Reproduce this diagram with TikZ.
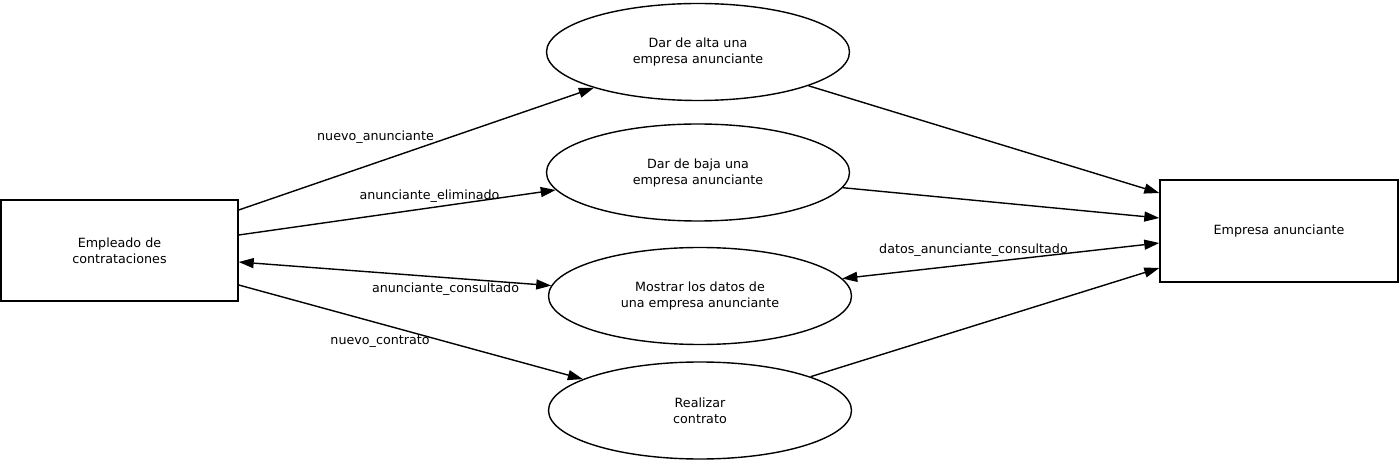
\documentclass[tikz,border=0pt]{standalone}
\usepackage{fontspec}
\setmainfont{DejaVu Sans}
\usetikzlibrary{shapes.geometric,arrows.meta}

\begin{document}
\begin{tikzpicture}[
  x=1pt,y=-1pt,
  every node/.style={font=\fontsize{12.7}{16}\selectfont},
  entity/.style={draw,line width=1.4pt,minimum width=237pt,minimum height=101pt,inner sep=0pt,align=center},
  process/.style={draw,ellipse,line width=1.4pt,minimum width=303pt,minimum height=97pt,inner sep=0pt,align=center},
  flow/.style={line width=1.4pt,-{Triangle[length=15pt,width=10pt]}},
  twoway/.style={line width=1.4pt,{Triangle[length=15pt,width=10pt]}-{Triangle[length=15pt,width=10pt]}},
  flowlabel/.style={inner sep=1pt}
]
\useasboundingbox (0,0) rectangle (1400,462);

% externos
\node[entity] (empleado) at (119.5,250.5) {Empleado de\\contrataciones};
\node[entity,minimum width=238pt,minimum height=102pt] (empresa) at (1279,231) {Empresa anunciante};

% procesos
\node[process] (alta) at (698,52) {Dar de alta una\\empresa anunciante};
\node[process] (baja) at (698,172.5) {Dar de baja una\\empresa anunciante};
\node[process] (mostrar) at (700,296) {Mostrar los datos de\\una empresa anunciante};
\node[process] (contrato) at (700,410.5) {Realizar\\contrato};

% flujos
\draw[flow] ([yshift=40.5pt]empleado.east) -- (alta.199);
\draw[flow] ([yshift=15.5pt]empleado.east) -- (baja.187);
\draw[twoway] ([yshift=-11.5pt]empleado.east) -- (mostrar.176);
\draw[flow] ([yshift=-34.5pt]empleado.east) -- (contrato.165);
\draw[flow] (alta.343) -- ([yshift=38pt]empresa.west);
\draw[flow] (baja.354) -- ([yshift=13pt]empresa.west);
\draw[twoway] (mostrar.7) -- ([yshift=-12pt]empresa.west);
\draw[flow] (contrato.17) -- ([yshift=-37pt]empresa.west);

% etiquetas
\node[flowlabel] (l1) at (375.5,137) {nuevo\_anunciante};
\node[flowlabel] (l2) at (429.5,196) {anunciante\_eliminado};
\node[flowlabel] (l3) at (445.5,289) {anunciante\_consultado};
\node[flowlabel] (l4) at (380,342) {nuevo\_contrato};
\node[flowlabel] (l5) at (973.5,250) {datos\_anunciante\_consultado};
\end{tikzpicture}
\end{document}
